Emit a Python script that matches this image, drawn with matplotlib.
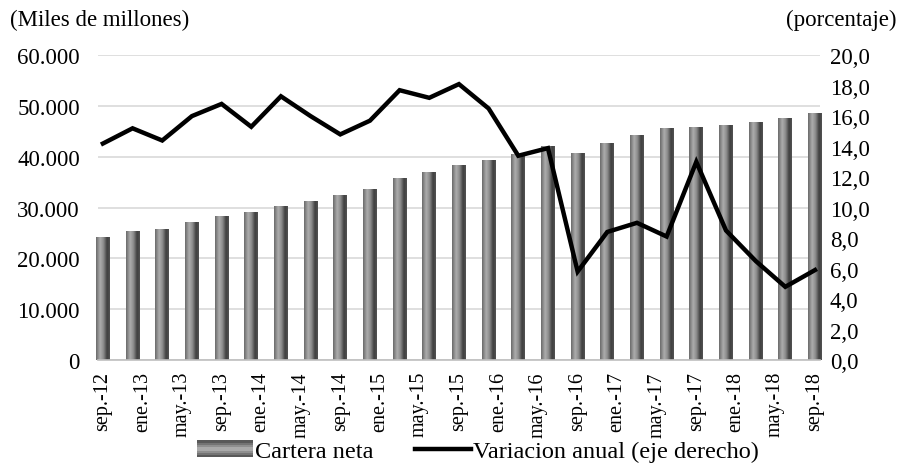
import numpy as np
import matplotlib
matplotlib.use("Agg")
import matplotlib.pyplot as plt
from matplotlib.lines import Line2D
from matplotlib.patches import Rectangle
from matplotlib.legend_handler import HandlerBase
from matplotlib.ticker import FuncFormatter

plt.rcParams["font.family"] = ["Liberation Serif", "DejaVu Serif"]

# datos trimestrales sep-12 ... sep-18
cartera = [24200, 25300, 25800, 27100, 28400, 29050, 30400, 31350, 32480,
           33660, 35760, 37060, 38440, 39370, 40550, 42160, 40750, 42700,
           44290, 45590, 45900, 46260, 46910, 47640, 48560]
variacion = [14.2, 15.2, 14.4, 16.0, 16.8, 15.3, 17.3, 16.0, 14.8, 15.7,
             17.7, 17.2, 18.1, 16.5, 13.4, 13.9, 5.8, 8.4, 9.0, 8.1,
             13.0, 8.5, 6.5, 4.8, 5.9]
etiquetas = ["sep.-12", "ene.-13", "may.-13", "sep.-13", "ene.-14", "may.-14",
             "sep.-14", "ene.-15", "may.-15", "sep.-15", "ene.-16", "may.-16",
             "sep.-16", "ene.-17", "may.-17", "sep.-17", "ene.-18", "may.-18",
             "sep.-18"]

# posicion en meses desde sep-12
x = np.arange(len(cartera)) * 3
xt = np.arange(len(etiquetas)) * 4

# perfil de sombreado del cilindro (izquierda -> derecha)
perfil = np.interp(np.linspace(0, 1, 40), [0, 0.3, 0.55, 0.8, 1.0],
                   [0.42, 0.68, 0.54, 0.25, 0.32])
grad = np.dstack([perfil, perfil, perfil])


class GradHandler(HandlerBase):
    def create_artists(self, legend, orig, xd, yd, w, h, fontsize, trans):
        arts = []
        n = 8
        vals = np.interp(np.linspace(0, 1, n), [0, 0.5, 1], [0.35, 0.72, 0.35])
        for i, v in enumerate(vals):
            r = Rectangle((xd, yd + h * i / n), w, h / n + 0.3,
                          facecolor=(v, v, v), edgecolor="none", transform=trans)
            arts.append(r)
        return arts


fig = plt.figure(figsize=(9.07, 4.64), dpi=100)
ax = fig.add_axes([0.108, 0.222, 0.796, 0.657])

bars = ax.bar(x, cartera, width=1.4, color="#707070", zorder=2)
for b in bars:
    x0, w, h = b.get_x(), b.get_width(), b.get_height()
    im = ax.imshow(grad, extent=[x0, x0 + w, 0, h], aspect="auto", zorder=2,
                   interpolation="bilinear")
    im.set_clip_path(b)

ax.set_xlim(-0.5, 72.5)
ax.set_ylim(0, 60000)
ax.set_yticks(np.arange(0, 60001, 10000))
ax.yaxis.set_major_formatter(FuncFormatter(lambda v, p: f"{v:,.0f}".replace(",", ".")))
ax.set_xticks(xt)
ax.set_xticklabels(etiquetas, rotation=90, fontsize=14.5)
ax.grid(axis="y", color="#d9d9d9", lw=1.2)
ax.set_axisbelow(True)
for s in ["top", "right", "left"]:
    ax.spines[s].set_visible(False)
ax.spines["bottom"].set_color("#bfbfbf")
ax.spines["bottom"].set_linewidth(1.2)
ax.tick_params(axis="y", length=0, pad=13, labelsize=16.5)
ax.tick_params(axis="x", length=0, pad=8)

ax2 = ax.twinx()
ax2.plot(x, variacion, color="black", lw=3.2, solid_joinstyle="miter")
ax2.set_ylim(0, 20)
ax2.set_yticks(np.arange(0, 20.1, 2))
ax2.yaxis.set_major_formatter(FuncFormatter(lambda v, p: f"{v:.1f}".replace(".", ",")))
ax2.tick_params(axis="y", length=0, pad=7, labelsize=16.5)
for s in ax2.spines.values():
    s.set_visible(False)
ax2.set_xlim(-0.5, 72.5)

fig.text(0.011, 0.955, "(Miles de millones)", fontsize=16.5, va="center", ha="left")
fig.text(0.988, 0.955, "(porcentaje)", fontsize=16.5, va="center", ha="right")

handles = [Rectangle((0, 0), 1, 1), Line2D([], [], color="black", lw=3.2)]
fig.legend(handles, ["Cartera neta", "Variacion anual (eje derecho)"],
           handler_map={Rectangle: GradHandler()}, loc="center",
           bbox_to_anchor=(0.527, 0.025), ncol=2, frameon=False, fontsize=17.5,
           handlelength=2.3, handletextpad=0.1, columnspacing=1.7,
           borderaxespad=0)

fig.savefig("out.png", dpi=100)
